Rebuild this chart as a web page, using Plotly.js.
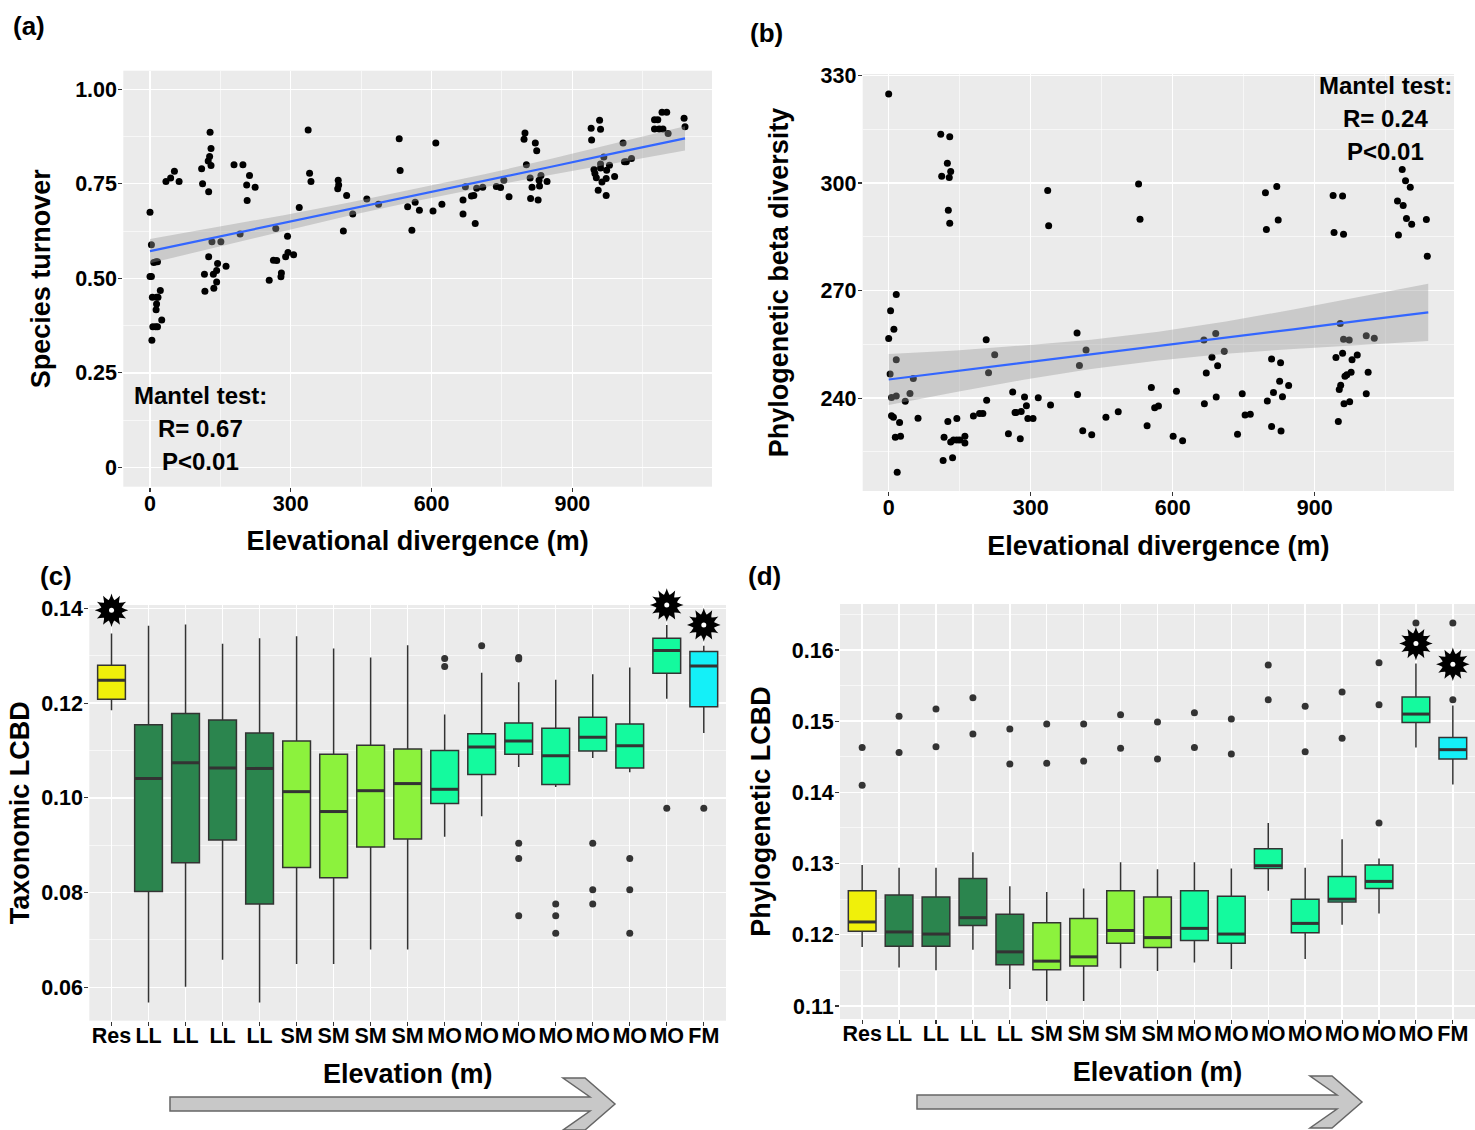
<!DOCTYPE html>
<html><head><meta charset="utf-8">
<script src="https://cdn.plot.ly/plotly-3.0.1.min.js"></script>
<style>html,body{margin:0;padding:0;background:#fff}#chart{width:1475px;height:1130px}</style>
</head><body><div id="chart"></div>
<script>
const W = 1475, H = 1130;
const FONT = 'Liberation Sans, Arial, sans-serif';

// ---------- Panel (a): species turnover vs elevational divergence ----------
const aX = [0,3,0,3,8,13,16,5,14,17,22,14,13,6,12,16,25,4,34,44,52,62,110,112,125,124,127,130,130,128,179,198,212,206,224,207,132,151,125,116,117,136,135,142,144,142,162,192,254,263,270,279,280,289,294,306,293,268,318,337,340,343,401,402,400,419,412,432,462,487,531,533,549,558,565,574,603,609,622,667,667,672,685,690,693,696,709,738,747,754,765,799,797,802,821,824,810,814,811,827,830,833,829,846,940,958,960,941,967,960,960,946,948,951,963,972,973,979,955,972,990,1008,1011,1015,1026,1075,1082,1075,1085,1093,1091,1101,1104,1138,1140];
const aY = [0.675,0.589,0.505,0.505,0.542,0.544,0.544,0.450,0.450,0.450,0.468,0.432,0.417,0.372,0.372,0.372,0.390,0.336,0.756,0.765,0.783,0.756,0.790,0.750,0.729,0.810,0.822,0.798,0.843,0.886,0.800,0.800,0.772,0.747,0.741,0.706,0.597,0.597,0.557,0.511,0.466,0.474,0.511,0.521,0.539,0.490,0.532,0.617,0.495,0.548,0.547,0.504,0.514,0.557,0.568,0.562,0.611,0.632,0.687,0.892,0.778,0.756,0.759,0.747,0.737,0.719,0.625,0.670,0.710,0.696,0.869,0.785,0.689,0.627,0.701,0.680,0.678,0.858,0.696,0.707,0.670,0.742,0.718,0.719,0.645,0.738,0.741,0.743,0.740,0.759,0.716,0.884,0.868,0.800,0.858,0.837,0.765,0.741,0.711,0.707,0.744,0.772,0.759,0.756,0.897,0.918,0.894,0.866,0.821,0.802,0.792,0.788,0.777,0.766,0.755,0.764,0.786,0.799,0.733,0.719,0.769,0.858,0.808,0.808,0.817,0.919,0.919,0.895,0.895,0.895,0.939,0.939,0.883,0.923,0.901];
const fitAX  = [0,142.5,285,427.5,570,712.5,855,997.5,1140];
const fitAY  = [0.572,0.609,0.646,0.684,0.721,0.758,0.795,0.833,0.870];
const fitALo = [0.540,0.583,0.625,0.667,0.705,0.741,0.774,0.807,0.838];
const fitAHi = [0.604,0.635,0.667,0.701,0.737,0.775,0.816,0.859,0.902];

// ---------- Panel (b): phylogenetic beta diversity ----------
const bX = [0,110,129,124,131,112,128,126,129,336,338,528,531,16,4,11,0,16,3,6,16,35,45,52,6,10,23,62,14,25,18,206,224,211,207,125,144,179,192,199,117,131,137,144,150,161,161,115,135,262,287,316,342,267,269,280,291,294,305,253,278,398,417,403,399,410,429,459,485,555,546,562,570,601,621,608,666,691,709,683,695,671,667,692,747,753,764,737,796,820,798,823,809,828,826,845,813,832,800,809,829,939,959,941,961,954,961,973,1009,1026,945,959,979,990,964,968,977,1013,955,952,962,974,1009,950,1085,1092,1102,1075,1087,1094,1105,1077,1136,1138];
const bY = [324.8,313.6,312.9,305.5,303.2,301.9,301.5,292.4,288.8,297.9,288.1,299.7,289.9,268.9,264.4,259.2,256.6,250.7,246.7,240.2,240.6,239.1,241.3,245.5,235.1,234.7,233.2,234.4,229.1,229.4,219.3,256.3,252.1,247.1,239.4,233.5,234.3,235.0,235.7,235.7,229.1,227.8,228.3,228.3,228.3,229.4,227.5,222.6,223.4,241.7,240.3,240.1,238.1,236.0,236.0,236.3,237.9,234.3,234.3,230.1,228.7,258.2,253.4,249.1,241.0,230.9,229.8,234.7,236.2,243.0,232.3,237.3,237.8,229.4,228.1,241.9,256.2,258.0,253.1,251.4,249.0,247.0,238.4,240.3,241.2,235.3,235.5,229.9,297.3,299.0,287.0,289.7,250.9,249.9,244.7,243.5,241.6,240.4,239.2,232.1,230.8,296.5,296.4,286.2,285.7,260.8,256.4,256.2,257.4,256.7,251.3,252.5,250.7,252.0,246.1,246.5,247.2,247.2,243.6,242.4,238.4,239.0,241.2,233.5,303.8,300.6,298.8,295.0,293.7,290.1,288.5,285.5,289.8,279.6];
const fitBX  = [0,142.5,285,427.5,570,712.5,855,997.5,1140];
const fitBY  = [245.2,247.5,249.9,252.2,254.5,256.9,259.2,261.6,263.9];
const fitBLo = [238.1,241.7,245.1,248.1,250.5,252.4,253.7,254.9,255.9];
const fitBHi = [252.3,253.3,254.7,256.3,258.5,261.4,264.7,268.3,271.9];

// ---------- Panels (c) and (d): LCBD boxplots ----------
const elevLabels = ['Res','LL','LL','LL','LL','SM','SM','SM','SM','MO','MO','MO','MO','MO','MO','MO','FM'];

const cLow  = [0.1185,0.0568,0.0601,0.0658,0.0568,0.0649,0.0649,0.0680,0.0680,0.0918,0.0961,0.1065,0.1023,0.1084,0.1054,0.1209,0.1137];
const cQ1   = [0.1208,0.0802,0.0863,0.0911,0.0776,0.0853,0.0831,0.0896,0.0913,0.0988,0.1049,0.1092,0.1028,0.1099,0.1063,0.1263,0.1192];
const cMed  = [0.1248,0.1041,0.1074,0.1063,0.1062,0.1013,0.0971,0.1015,0.1030,0.1018,0.1107,0.1120,0.1089,0.1128,0.1110,0.1311,0.1278];
const cQ3   = [0.1280,0.1154,0.1178,0.1164,0.1137,0.1120,0.1092,0.1111,0.1103,0.1100,0.1135,0.1158,0.1147,0.1170,0.1156,0.1337,0.1309];
const cHigh = [0.1347,0.1363,0.1366,0.1325,0.1337,0.1341,0.1315,0.1296,0.1322,0.1176,0.1264,0.1244,0.1249,0.1261,0.1275,0.1365,0.1321];
const cOutIdx = [9,9,10,11,11,11,11,11,12,12,12,13,13,13,14,14,14,15,16];
const cOutVal = [0.1294,0.1277,0.1321,0.1296,0.1293,0.0904,0.0872,0.0751,0.0776,0.0751,0.0714,0.0904,0.0806,0.0776,0.0872,0.0806,0.0714,0.0978,0.0978];
const cStarIdx = [0,15,16];
const cStarVal = [0.1396,0.1407,0.1365];

const dLow  = [0.1183,0.1154,0.1150,0.1179,0.1124,0.1107,0.1107,0.1153,0.1149,0.1161,0.1152,0.1262,0.1166,0.1214,0.1230,0.1463,0.1411];
const dQ1   = [0.1205,0.1184,0.1184,0.1213,0.1158,0.1151,0.1156,0.1188,0.1182,0.1192,0.1188,0.1293,0.1203,0.1246,0.1265,0.1498,0.1447];
const dMed  = [0.1218,0.1204,0.1201,0.1224,0.1176,0.1163,0.1169,0.1206,0.1196,0.1209,0.1201,0.1297,0.1216,0.1250,0.1275,0.1510,0.1460];
const dQ3   = [0.1262,0.1256,0.1253,0.1279,0.1229,0.1217,0.1223,0.1262,0.1253,0.1262,0.1254,0.1321,0.1250,0.1282,0.1298,0.1534,0.1477];
const dHigh = [0.1298,0.1294,0.1294,0.1316,0.1268,0.1260,0.1265,0.1302,0.1292,0.1302,0.1293,0.1357,0.1294,0.1334,0.1307,0.1581,0.1522];
const dOutIdx = [0,0,1,1,2,2,3,3,4,4,5,5,6,6,7,7,8,8,9,9,10,10,11,11,12,12,13,13,14,14,14,15,16,16];
const dOutVal = [0.1463,0.1410,0.1507,0.1456,0.1517,0.1464,0.1533,0.1482,0.1489,0.1440,0.1496,0.1441,0.1496,0.1444,0.1509,0.1462,0.1499,0.1447,0.1512,0.1463,0.1503,0.1454,0.1579,0.1530,0.1521,0.1457,0.1541,0.1476,0.1582,0.1523,0.1357,0.1638,0.1638,0.1530];
const dStarIdx = [15,16];
const dStarVal = [0.1609,0.1580];

const groupColors = {Res:'#F0F00A', LL:'#2B854E', SM:'#8CF23D', MO:'#14FA9E', FM:'#14F0F8'};

// ---------- helpers ----------
function dom(a,b,tot){ return [a/tot, b/tot]; }
function ydom(top,bottom){ return [1-bottom/H, 1-top/H]; }
function px(x){ return x/W; }
function py(y){ return 1-y/H; }

const traces = [];
const annotations = [];

function scatterPanel(X, Y, fx, fy, lo, hi, xa, ya){
  traces.push({type:'scatter', mode:'markers', x:X, y:Y, xaxis:xa, yaxis:ya,
    marker:{color:'#000000', size:7}, hoverinfo:'skip'});
  traces.push({type:'scatter', mode:'lines', x:fx.concat(fx.slice().reverse()),
    y:hi.concat(lo.slice().reverse()), fill:'toself', fillcolor:'rgba(153,153,153,0.4)',
    line:{width:0}, xaxis:xa, yaxis:ya, hoverinfo:'skip'});
  traces.push({type:'scatter', mode:'lines', x:fx, y:fy, xaxis:xa, yaxis:ya,
    line:{color:'#3366FF', width:2.2}, hoverinfo:'skip'});
}
scatterPanel(aX,aY,fitAX,fitAY,fitALo,fitAHi,'x','y');
scatterPanel(bX,bY,fitBX,fitBY,fitBLo,fitBHi,'x2','y2');

function boxPanel(low,q1,med,q3,high,outIdx,outVal,starIdx,starVal,xa,ya){
  Object.keys(groupColors).forEach(g=>{
    const idx = elevLabels.map((l,i)=>l===g?i:-1).filter(i=>i>=0);
    traces.push({type:'box', orientation:'v', x:idx,
      q1:idx.map(i=>q1[i]), median:idx.map(i=>med[i]), q3:idx.map(i=>q3[i]),
      lowerfence:idx.map(i=>low[i]), upperfence:idx.map(i=>high[i]),
      width:0.75, whiskerwidth:0, boxpoints:false, fillcolor:groupColors[g],
      line:{color:'#333333', width:1.5}, xaxis:xa, yaxis:ya, hoverinfo:'skip'});
  });
  const mx=[], my=[];
  med.forEach((m,i)=>{ mx.push(i-0.375,i+0.375,null); my.push(m,m,null); });
  traces.push({type:'scatter', mode:'lines', x:mx, y:my, xaxis:xa, yaxis:ya,
    line:{color:'#333333', width:3}, hoverinfo:'skip'});
  traces.push({type:'scatter', mode:'markers', x:outIdx, y:outVal, xaxis:xa, yaxis:ya,
    marker:{color:'#333333', size:7}, hoverinfo:'skip'});
  // significance stars: twelve-pointed burst built from three rotated 4-point stars, white centre
  [0,30,60].forEach(ang=>{
    traces.push({type:'scatter', mode:'markers', x:starIdx, y:starVal, xaxis:xa, yaxis:ya, cliponaxis:false,
      marker:{symbol:'star-diamond', size:24, angle:ang, color:'#000000', line:{width:0}}, hoverinfo:'skip'});
  });
  traces.push({type:'scatter', mode:'markers', x:starIdx, y:starVal, xaxis:xa, yaxis:ya, cliponaxis:false,
    marker:{symbol:'circle', size:5, color:'#FFFFFF', line:{width:0}}, hoverinfo:'skip'});
}
boxPanel(cLow,cQ1,cMed,cQ3,cHigh,cOutIdx,cOutVal,cStarIdx,cStarVal,'x3','y3');
boxPanel(dLow,dQ1,dMed,dQ3,dHigh,dOutIdx,dOutVal,dStarIdx,dStarVal,'x4','y4');

// ---------- axes ----------
const tickFont = {family:FONT, size:21.5, color:'#000000', weight:'bold'};
const titleFont = {family:FONT, size:27, color:'#000000', weight:'bold'};
function ax(extra){
  return Object.assign({showline:false, zeroline:false, showgrid:true, gridcolor:'#FFFFFF', gridwidth:1.4,
    ticks:'outside', ticklen:4, tickwidth:1.1, tickcolor:'#333333', tickfont:tickFont,
    automargin:false, fixedrange:true}, extra);
}
const minorGrid = d => ({dtick:d, tick0:0, showgrid:true, gridcolor:'#FFFFFF', gridwidth:0.6, ticks:''});

const layout = {
  width:W, height:H, margin:{l:0,r:0,t:0,b:0}, showlegend:false,
  paper_bgcolor:'#FFFFFF', plot_bgcolor:'#EBEBEB', boxmode:'overlay',
  font:{family:FONT, color:'#000000'},
  xaxis: ax({domain:dom(123.3,712,W), anchor:'y', range:[-56.9,1197.5], tick0:0, dtick:300, minor:minorGrid(150), ticklabelstandoff:-7,
    title:{text:'Elevational divergence (m)', font:titleFont, standoff:16}}),
  yaxis: ax({domain:ydom(70.7,486.7), anchor:'x', range:[-0.051,1.049], tickvals:[0,0.25,0.5,0.75,1], ticktext:['0','0.25','0.50','0.75','1.00'], minor:minorGrid(0.125), ticklabelstandoff:-3,
    title:{text:'Species turnover', font:titleFont, standoff:16}}),
  xaxis2: ax({domain:dom(862.7,1454,W), anchor:'y2', range:[-54.9,1194.4], tick0:0, dtick:300, minor:minorGrid(150), ticklabelstandoff:-7,
    title:{text:'Elevational divergence (m)', font:titleFont, standoff:17}}),
  yaxis2: ax({domain:ydom(74,491), anchor:'x2', range:[214.1,330.4], tick0:0, dtick:30, minor:minorGrid(15), ticklabelstandoff:-3,
    title:{text:'Phylogenetic beta diversity', font:titleFont, standoff:24}}),
  xaxis3: ax({domain:dom(89.3,726,W), anchor:'y3', range:[-0.6,16.6], tickvals:elevLabels.map((l,i)=>i), ticktext:elevLabels, ticklabelstandoff:-9,
    title:{text:'Elevation (m)', font:titleFont, standoff:17}}),
  yaxis3: ax({domain:ydom(605,1020.7), anchor:'x3', range:[0.05295,0.1407], tick0:0, dtick:0.02, tickformat:'.2f', minor:minorGrid(0.01), ticklabelstandoff:-3,
    title:{text:'Taxonomic LCBD', font:titleFont, standoff:3}}),
  xaxis4: ax({domain:dom(840,1475,W), anchor:'y4', range:[-0.6,16.6], tickvals:elevLabels.map((l,i)=>i), ticktext:elevLabels, ticklabelstandoff:-9,
    title:{text:'Elevation (m)', font:titleFont, standoff:17}}),
  yaxis4: ax({domain:ydom(604,1019), anchor:'x4', range:[0.10817,0.16646], tick0:0, dtick:0.01, tickformat:'.2f', minor:minorGrid(0.005), ticklabelstandoff:-3,
    title:{text:'Phylogenetic LCBD', font:titleFont, standoff:13}}),
  annotations: annotations,
  shapes: []
};

function note(text, x, y, size){
  annotations.push({text:text, xref:'paper', yref:'paper', x:px(x), y:py(y),
    xanchor:'center', yanchor:'middle', showarrow:false,
    font:{family:FONT, size:size, color:'#000000', weight:'bold'}});
}
note('(a)', 29, 26, 26);
note('(b)', 766, 33, 26);
note('(c)', 56, 576, 26);
note('(d)', 764, 576, 26);
note('Mantel test:', 200, 396, 24);
note('R= 0.67', 200, 429, 24);
note('P<0.01', 200, 462, 24);
note('Mantel test:', 1385, 85, 24);
note('R= 0.24', 1385, 119, 24);
note('P<0.01', 1385, 152, 24);

function arrow(x0, x1, yc){
  const pts = [[x0,yc-7],[x1-25,yc-7],[x1-52,yc-26],[x1-30,yc-26],[x1,yc],[x1-30,yc+26],[x1-52,yc+26],[x1-25,yc+7],[x0,yc+7]];
  const path = 'M' + pts.map(p=>px(p[0]).toFixed(5)+','+py(p[1]).toFixed(5)).join(' L') + ' Z';
  layout.shapes.push({type:'path', xref:'paper', yref:'paper', path:path,
    fillcolor:'#C8C8C8', line:{color:'#666666', width:1.5}});
}
arrow(170, 615, 1104);
arrow(917, 1362, 1102);

Plotly.newPlot('chart', traces, layout, {staticPlot:true, displayModeBar:false});
</script>
</body></html>
